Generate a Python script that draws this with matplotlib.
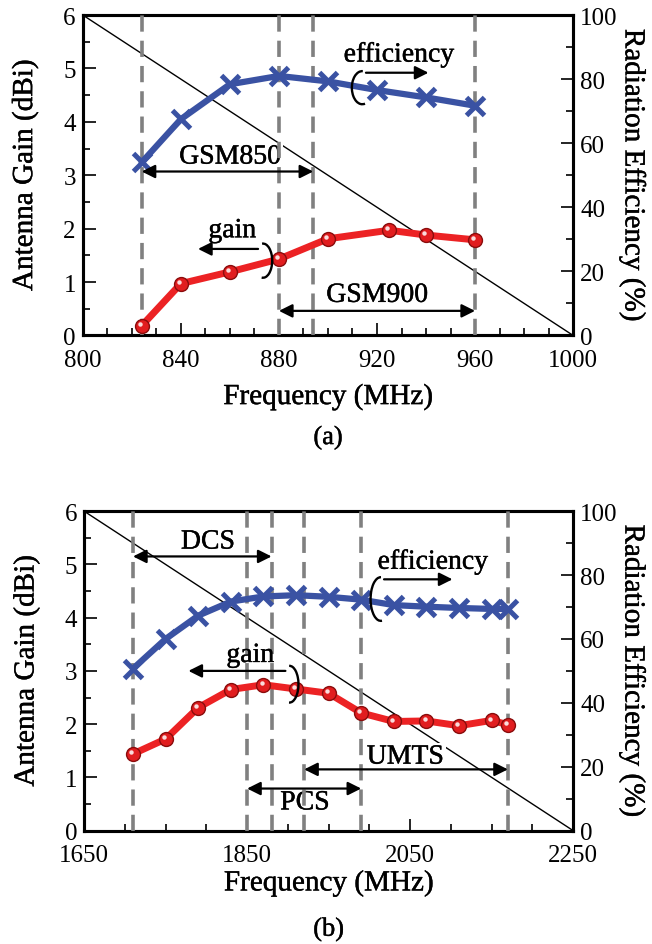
import matplotlib
matplotlib.use('Agg')
import matplotlib.pyplot as plt
from matplotlib.patches import Arc
from matplotlib.text import Text
from matplotlib.ticker import MultipleLocator, FixedLocator
import matplotlib.transforms as mtransforms
import matplotlib.patheffects as pe

plt.rcParams['font.family'] = ['Liberation Serif', 'DejaVu Serif']
plt.rcParams['mathtext.fontset'] = 'stix'

## (a) GSM850 / GSM900
freq_a = [824, 840, 860, 880, 900, 920, 940, 960]
eff_a = [54.0, 67.5, 78.4, 81.0, 79.3, 76.6, 74.3, 71.7]
freq_gain_a = [824, 840, 860, 880, 900, 925, 940, 960]
gain_a = [0.18, 0.97, 1.19, 1.43, 1.81, 1.97, 1.88, 1.79]
bands_a = [824, 880, 894, 960]
xticks_a = [800, 840, 880, 920, 960, 1000]

## (b) DCS / PCS / UMTS
freq_b = [1710, 1750, 1790, 1830, 1870, 1910, 1950, 1990, 2030, 2070, 2110, 2150, 2170]
eff_b = [50.7, 60.0, 67.3, 71.7, 73.3, 73.7, 73.2, 72.3, 70.6, 70.1, 69.7, 69.4, 69.4]
gain_b = [1.44, 1.72, 2.31, 2.65, 2.74, 2.66, 2.58, 2.21, 2.05, 2.06, 1.97, 2.07, 1.99]
bands_b = [1710, 1850, 1880, 1920, 1990, 2170]
xticks_b = [1650, 1850, 2050, 2250]

BLUE = '#3a52a3'
RED = '#ec2224'
FS = 18     # tick labels
LFS = 21    # axis labels

fig = plt.figure(figsize=(6.52, 9.45), dpi=100)

#____________________________________________________________________________________________________
def panel(rect, xticks, xminor, freq_eff, eff, freq_gain, gain, bands, tag, xlab_y, tag_y):
    ax = fig.add_axes(rect)
    ax2 = ax.twinx()
    ax.set_zorder(ax2.get_zorder() + 1)
    ax.patch.set_visible(False)

    xlim = (xticks[0], xticks[-1])
    ax.set_xlim(*xlim)
    ax.set_ylim(0, 6)
    ax2.set_ylim(0, 100)

    # reference diagonal across the plot area
    ax.plot(xlim, [6, 0], color='black', lw=1.0, zorder=1)

    for b in bands:
        ax.axvline(b, color='#808080', lw=2.6, ls=(0, (4.5, 2.5)), zorder=3)

    # efficiency curve drawn on the gain axis scale (100 % <-> 6 dBi)
    eff_scaled = [e * 6 / 100 for e in eff]
    ax.plot(freq_eff, eff_scaled, color=BLUE, lw=4.5, zorder=4, solid_capstyle='round')
    ax.plot(freq_eff, eff_scaled, ls='none', marker='x', ms=13, mew=3.6, color=BLUE, zorder=5)

    ax.plot(freq_gain, gain, color=RED, lw=5, zorder=4, solid_capstyle='round')
    ax.plot(freq_gain, gain, ls='none', marker='o', ms=10, mfc='#e11d1f', mec='#8a0c0c',
            mew=1.0, zorder=5)
    shift = mtransforms.offset_copy(ax.transData, fig=fig, x=-1.3, y=1.3, units='points')
    ax.plot(freq_gain, gain, ls='none', marker='o', ms=3.2, mfc='white', mec='none',
            alpha=0.85, transform=shift, zorder=6)

    ax.xaxis.set_major_locator(FixedLocator(xticks))
    ax.xaxis.set_minor_locator(MultipleLocator(xminor))
    ax.yaxis.set_major_locator(MultipleLocator(1))
    ax.yaxis.set_minor_locator(MultipleLocator(0.5))
    ax2.yaxis.set_major_locator(MultipleLocator(20))
    ax2.yaxis.set_minor_locator(MultipleLocator(10))

    for a in (ax, ax2):
        for s in a.spines.values():
            s.set_linewidth(2.2)
        a.tick_params(which='both', direction='in', labelsize=FS, width=1.2)
        a.tick_params(which='major', length=9)
        a.tick_params(which='minor', length=5)
    ax.tick_params(axis='y', pad=5)
    ax.tick_params(axis='x', pad=10)
    ax2.tick_params(axis='y', pad=5)

    ax.set_xlabel('Frequency (MHz)', fontsize=LFS, va='center')
    ax.xaxis.set_label_coords(0.5, xlab_y)
    ax.set_ylabel('Antenna Gain (dBi)', fontsize=LFS, va='center')
    ax.yaxis.set_label_coords(-0.118, 0.5)
    ax2.set_ylabel('Radiation Efficiency (%)', fontsize=LFS, rotation=270, va='center')
    ax2.yaxis.set_label_coords(1.122, 0.5)
    ax.text(0.5, tag_y, tag, transform=ax.transAxes, ha='center', va='center', fontsize=FS + 1)
    return ax

def band_arrow(ax, x0, x1, y, label, txy):
    ax.annotate('', xy=(x1, y), xytext=(x0, y), zorder=6,
                arrowprops=dict(arrowstyle='<|-|>', color='black', lw=1.6,
                                mutation_scale=20, shrinkA=0, shrinkB=0))
    ax.text(txy[0], txy[1], label, ha='center', va='center', fontsize=FS + 2, zorder=2.5,
            bbox=dict(facecolor='white', edgecolor='none', pad=1.5))

def loop_arrow(ax, label, txy, center, w, h, span, a0, a1):
    ax.text(txy[0], txy[1], label, ha='center', va='center', fontsize=FS + 2, zorder=7)
    ax.add_patch(Arc(center, w, h, theta1=span[0], theta2=span[1], color='black', lw=1.7, zorder=7))
    ax.annotate('', xy=a1, xytext=a0, zorder=7,
                arrowprops=dict(arrowstyle='-|>', color='black', lw=1.6,
                                mutation_scale=20, shrinkA=0, shrinkB=0))

#____________________________________________________________________________________________________
ax_a = panel([0.127, 0.644, 0.752, 0.339], xticks_a, 10,
             freq_a, eff_a, freq_gain_a, gain_a, bands_a, '(a)', -0.192, -0.32)
band_arrow(ax_a, 824, 894, 3.07, 'GSM850', (860, 3.34))
band_arrow(ax_a, 880, 960, 0.46, 'GSM900', (920, 0.75))
loop_arrow(ax_a, 'efficiency', (929, 5.25), (914, 4.64), 8.5, 0.62, (55, 345),
           (915.5, 4.92), (941, 4.92))
loop_arrow(ax_a, 'gain', (861, 1.96), (873.5, 1.40), 7.5, 0.64, (-150, 140),
           (871.5, 1.62), (847, 1.62))

ax_b = panel([0.129, 0.120, 0.750, 0.338], xticks_b, 50,
             freq_b, eff_b, freq_b, gain_b, bands_b, '(b)', -0.165, -0.31)
band_arrow(ax_b, 1710, 1880, 5.15, 'DCS', (1802, 5.42))
band_arrow(ax_b, 1850, 1990, 0.79, 'PCS', (1921, 0.52))
band_arrow(ax_b, 1920, 2170, 1.15, 'UMTS', (2044, 1.38))
loop_arrow(ax_b, 'efficiency', (2078, 5.04), (2014, 4.35), 25, 0.82, (55, 345),
           (2018, 4.72), (2102, 4.72))
loop_arrow(ax_b, 'gain', (1854, 3.29), (1902, 2.75), 22, 0.69, (-150, 140),
           (1897, 3.0), (1778, 3.0))

# slightly heavier glyphs for all text
for t in fig.findobj(Text):
    if t.get_text():
        t.set_path_effects([pe.withStroke(linewidth=0.3, foreground='black')])

fig.savefig('out.png', dpi=100)
